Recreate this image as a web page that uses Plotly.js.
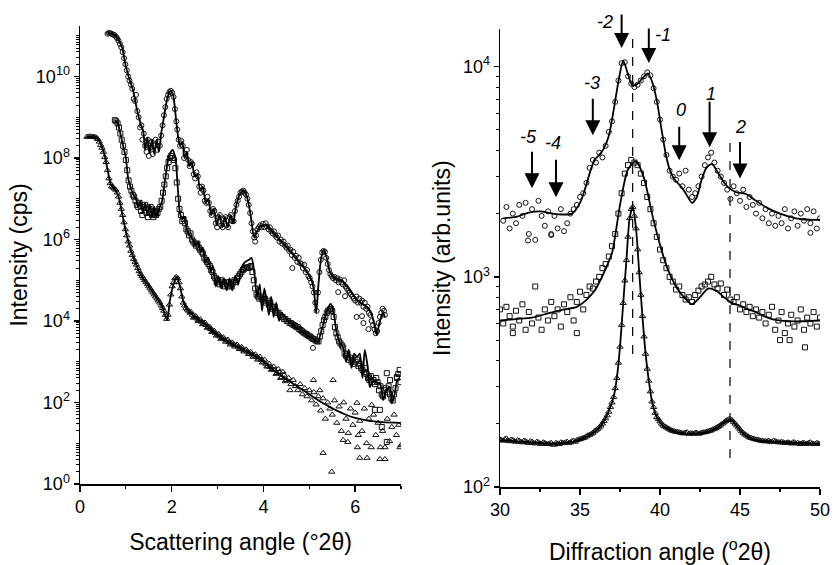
<!DOCTYPE html>
<html><head><meta charset="utf-8">
<script src="https://cdn.plot.ly/plotly-3.0.1.min.js"></script>
<style>html,body{margin:0;padding:0;background:#fff}#chart{width:834px;height:565px}</style>
</head><body><div id="chart"></div>
<script>
// ---------- LEFT PANEL (low-angle scattering), intensities given as log10(cps) ----------
// Series A (circles, top)
const circX = [
 0.60,0.63,0.66,0.69,0.72,0.75,0.78,0.81,0.84,0.87,
 0.90,0.93,0.96,0.99,1.02,1.05,1.08,1.11,1.14,1.17,
 1.20,1.22,1.25,1.28,1.31,1.34,1.36,1.39,1.42,1.45,
 1.48,1.50,1.53,1.56,1.59,1.62,1.65,1.68,1.71,1.74,
 1.77,1.80,1.83,1.86,1.89,1.92,1.95,1.98,2.01,2.04,
 2.07,2.10,2.12,2.15,2.18,2.21,2.24,2.27,2.30,2.33,
 2.36,2.39,2.42,2.45,2.48,2.51,2.54,2.57,2.60,2.63,
 2.66,2.69,2.72,2.75,2.78,2.81,2.84,2.87,2.90,2.93,
 2.96,2.99,3.02,3.05,3.08,3.11,3.14,3.17,3.20,3.23,
 3.26,3.29,3.32,3.35,3.38,3.41,3.44,3.47,3.50,3.53,
 3.56,3.59,3.62,3.65,3.68,3.71,3.74,3.77,3.80,3.82,
 3.84,3.87,3.90,3.93,3.96,3.99,4.02,4.05,4.08,4.11,
 4.14,4.17,4.20,4.23,4.26,4.29,4.32,4.35,4.38,4.41,
 4.44,4.47,4.50,4.53,4.56,4.59,4.62,4.65,4.68,4.71,
 4.74,4.77,4.80,4.83,4.86,4.89,4.92,4.95,4.98,5.01,
 5.04,5.07,5.10,5.13,5.16,5.19,5.22,5.25,5.28,5.31,
 5.34,5.37,5.40,5.43,5.46,5.49,5.52,5.55,5.58,5.61,
 5.64,5.67,5.70,5.73,5.76,5.79,5.82,5.85,5.88,5.91,
 5.94,5.97,6.00,6.03,6.06,6.09,6.12,6.15,6.18,6.21,
 6.24,6.27,6.30,6.33,6.36,6.39,6.42,6.45,6.48,6.51,
 6.54,6.57,6.60,6.63,6.65,
 4.63,5.63,5.78,6.03,6.18,6.29,6.15,5.08
];
const circLog = [
 11.05,11.07,11.06,11.05,11.03,11.02,10.98,10.94,10.88,10.80,
 10.72,10.60,10.45,10.30,10.15,10.00,9.90,9.80,9.70,9.45,
 9.40,9.55,9.15,9.00,8.75,8.80,8.45,8.60,8.30,8.15,
 8.45,8.05,8.25,8.40,8.10,8.30,8.45,8.20,8.40,8.30,
 8.55,8.80,9.05,9.25,9.45,9.55,9.62,9.65,9.60,9.50,
 9.20,8.90,8.70,8.45,8.30,8.42,8.30,8.00,8.10,8.20,
 7.95,7.80,7.90,7.85,7.60,7.50,7.65,7.55,7.30,7.15,
 7.30,7.20,6.95,6.90,7.05,6.90,6.70,6.60,6.75,6.70,
 6.40,6.30,6.55,6.60,6.35,6.30,6.50,6.55,6.35,6.30,
 6.55,6.60,6.45,6.45,6.70,6.85,6.95,7.05,7.15,7.18,
 7.20,7.15,7.10,7.00,6.85,6.65,6.40,6.20,6.05,5.95,
 6.10,6.25,6.30,6.35,6.30,6.38,6.30,6.40,6.32,6.25,
 6.30,6.20,6.15,6.20,6.10,6.05,6.10,5.95,6.00,5.90,
 5.95,5.85,5.80,5.85,5.72,5.75,5.62,5.70,5.55,5.60,
 5.45,5.55,5.42,5.40,5.30,5.38,5.20,5.25,5.10,5.05,
 4.95,4.85,4.70,4.45,4.25,4.70,5.20,5.50,5.68,5.72,
 5.70,5.55,5.40,5.25,5.15,5.10,5.05,5.08,5.00,5.05,
 4.95,5.02,4.95,4.90,5.00,4.85,4.80,4.75,4.70,4.65,
 4.60,4.55,4.50,4.60,4.45,4.55,4.45,4.50,4.35,4.45,
 4.30,4.35,4.20,4.15,4.00,3.90,3.80,3.70,3.75,3.95,
 4.10,4.20,4.30,4.25,4.15,
 5.30,4.71,4.61,4.10,3.95,3.80,4.12,3.34
];
const fitAX = [0.60,0.70,0.78,0.85,0.92,1.00,1.08,1.16,1.24,1.32,1.38,1.42,1.47,1.52,1.57,1.62,1.67,1.72,1.77,1.83,1.90,1.97,2.03,2.08,2.13,2.18,2.23,2.28,2.33,2.38,2.44,2.50,2.56,2.62,2.68,2.74,2.80,2.86,2.92,2.98,3.04,3.10,3.16,3.22,3.28,3.34,3.40,3.48,3.56,3.64,3.72,3.80,3.86,3.93,4.00,4.07,4.15,4.25,4.35,4.45,4.55,4.65,4.75,4.85,4.95,5.05,5.10,5.15,5.20,5.26,5.32,5.38,5.45,5.55,5.65,5.75,5.85,5.95,6.05,6.15,6.25,6.35,6.42,6.47,6.53,6.60,6.65];
const fitALog = [11.07,11.05,11.00,10.88,10.70,10.25,9.92,9.65,9.20,8.85,8.65,8.20,8.50,8.12,8.45,8.10,8.45,8.15,8.60,9.00,9.45,9.65,9.55,9.10,8.60,8.30,8.40,8.00,8.15,7.80,7.90,7.55,7.60,7.20,7.30,6.90,7.00,6.60,6.75,6.35,6.60,6.30,6.55,6.30,6.60,6.40,6.80,7.10,7.20,7.05,6.60,6.05,6.20,6.33,6.33,6.36,6.25,6.12,6.00,5.88,5.75,5.62,5.48,5.35,5.20,5.00,4.75,4.20,4.90,5.55,5.74,5.55,5.20,5.05,5.02,4.95,4.80,4.65,4.50,4.42,4.35,4.20,3.90,3.66,3.95,4.20,4.10];

// Series B (squares, middle)
const sqX = [
 0.76,0.79,0.82,0.85,0.88,0.91,0.94,0.97,1.00,1.03,
 1.06,1.09,1.12,1.15,1.18,1.21,1.24,1.27,1.30,1.33,
 1.36,1.39,1.42,1.45,1.48,1.51,1.54,1.57,1.60,1.63,
 1.66,1.69,1.72,1.75,1.78,1.81,1.84,1.87,1.90,1.93,
 1.96,1.99,2.02,2.05,2.08,2.11,2.14,2.17,2.20,2.23,
 2.26,2.29,2.32,2.35,2.38,2.41,2.44,2.47,2.50,2.53,
 2.56,2.59,2.62,2.65,2.68,2.71,2.74,2.77,2.80,2.83,
 2.86,2.89,2.92,2.95,2.98,3.01,3.04,3.07,3.10,3.13,
 3.16,3.19,3.22,3.25,3.28,3.31,3.34,3.37,3.40,3.43,
 3.46,3.49,3.52,3.55,3.58,3.61,3.64,3.67,3.70,3.73,
 3.76,3.79,3.82,3.85,3.88,3.91,3.94,3.97,4.00,4.03,
 4.06,4.09,4.12,4.15,4.18,4.21,4.24,4.27,4.30,4.33,
 4.36,4.39,4.42,4.45,4.48,4.51,4.54,4.57,4.60,4.63,
 4.66,4.69,4.72,4.75,4.78,4.81,4.84,4.87,4.90,4.93,
 4.96,4.99,5.02,5.05,5.08,5.11,5.14,5.17,5.20,5.23,
 5.26,5.29,5.32,5.35,5.38,5.41,5.44,5.47,5.50,5.53,
 5.56,5.59,5.62,5.65,5.68,5.71,5.74,5.77,5.80,5.83,
 5.86,5.89,5.92,5.95,5.98,6.01,6.04,6.07,6.10,6.13,
 6.16,6.19,6.22,6.25,6.28,6.31,6.34,6.37,6.40,6.43,
 6.46,6.49,6.52,6.55,6.58,6.61,6.64,6.67,6.70,6.73,
 6.76,6.79,6.82,6.85,6.88,6.91,6.94,6.97,6.99,
 6.69,6.76,6.91,6.30,6.43,6.54,6.69,6.58
];
const sqLog = [
 8.93,8.90,8.85,8.75,8.60,8.45,8.30,8.15,7.95,7.70,
 7.45,7.30,7.20,7.10,7.05,6.95,6.85,6.80,6.90,6.70,
 6.60,6.80,6.85,6.65,6.55,6.75,6.80,6.60,6.55,6.70,
 6.60,6.65,6.75,6.80,6.95,7.15,7.35,7.55,7.75,7.90,
 8.00,8.05,8.00,7.95,7.75,7.40,7.00,6.75,6.60,6.45,
 6.50,6.40,6.25,6.20,6.10,6.15,6.00,5.95,5.90,5.85,
 5.90,5.80,5.75,5.70,5.65,5.55,5.50,5.45,5.40,5.35,
 5.25,5.20,5.10,5.05,4.95,5.00,4.90,5.00,4.90,4.95,
 4.85,4.95,4.85,4.95,4.90,4.85,4.95,5.00,4.95,5.05,
 5.10,5.15,5.20,5.25,5.28,5.30,5.32,5.30,5.32,5.35,
 5.20,5.00,4.80,4.65,4.60,4.55,4.60,4.55,4.50,4.55,
 4.45,4.50,4.40,4.45,4.35,4.30,4.35,4.25,4.20,4.20,
 4.15,4.10,4.10,4.05,4.05,4.00,4.00,3.95,3.95,3.92,
 3.90,3.88,3.85,3.85,3.80,3.78,3.75,3.72,3.70,3.68,
 3.66,3.63,3.62,3.58,3.56,3.55,3.52,3.50,3.50,3.62,
 3.75,3.90,4.02,4.10,4.20,4.25,4.28,4.30,4.25,4.10,
 3.85,3.70,3.60,3.50,3.45,3.40,3.35,3.20,3.15,3.20,
 3.05,3.10,3.00,3.05,2.95,3.00,3.05,2.90,2.95,2.85,
 2.80,2.75,2.85,2.70,2.60,2.55,2.65,2.50,2.55,2.45,
 2.60,2.50,2.30,2.40,2.20,2.15,2.30,2.35,2.25,2.40,
 2.20,2.10,2.05,2.20,2.35,2.60,2.70,2.80,2.50,
 2.72,2.55,2.63,2.62,1.82,1.82,1.03,1.40
];
const fitBX = [0.76,0.82,0.88,0.94,1.00,1.05,1.10,1.16,1.22,1.27,1.32,1.37,1.42,1.47,1.52,1.57,1.62,1.67,1.72,1.78,1.86,1.94,2.02,2.08,2.13,2.18,2.23,2.28,2.34,2.40,2.46,2.52,2.58,2.63,2.68,2.74,2.80,2.85,2.90,2.96,3.02,3.08,3.14,3.20,3.26,3.32,3.38,3.45,3.52,3.60,3.68,3.74,3.80,3.86,3.92,3.97,4.02,4.07,4.12,4.17,4.22,4.28,4.34,4.40,4.50,4.60,4.70,4.80,4.90,5.00,5.10,5.18,5.25,5.32,5.40,5.47,5.53,5.60,5.67,5.74,5.80,5.86,5.92,5.98,6.04,6.10,6.16,6.21,6.27,6.32,6.40,6.47,6.54,6.61,6.68,6.76,6.80,6.86,6.92,6.98];
const fitBLog = [8.93,8.86,8.60,8.30,8.00,7.50,7.30,7.10,7.00,6.80,6.95,6.65,6.90,6.60,6.85,6.55,6.80,6.55,6.75,6.90,7.50,8.05,8.20,8.00,7.30,6.65,6.50,6.55,6.20,6.10,6.00,5.85,5.95,5.70,5.80,5.45,5.55,5.20,5.35,4.85,5.10,4.80,5.05,4.75,5.05,4.75,5.10,4.90,5.30,5.45,5.50,5.55,5.20,4.60,4.90,4.25,4.80,4.50,4.15,4.60,4.10,4.45,4.00,4.20,4.05,3.95,3.85,3.78,3.70,3.62,3.55,3.48,3.70,4.00,4.30,4.42,4.20,3.70,3.46,3.35,3.00,3.30,2.85,3.20,3.12,3.20,2.60,3.29,2.90,2.38,2.55,2.48,2.48,2.06,2.30,2.38,1.98,2.20,2.55,2.60];

// Series C (triangles, bottom)
const triX = [
 0.15,0.18,0.21,0.24,0.27,0.30,0.33,0.36,0.39,0.42,
 0.45,0.48,0.51,0.54,0.57,0.60,0.63,0.66,0.69,0.72,
 0.75,0.78,0.81,0.84,0.87,0.90,0.93,0.96,0.99,1.02,
 1.05,1.08,1.11,1.14,1.17,1.20,1.23,1.26,1.29,1.32,
 1.35,1.38,1.41,1.44,1.47,1.50,1.53,1.56,1.59,1.62,
 1.65,1.68,1.71,1.74,1.77,1.80,1.83,1.86,1.89,1.92,
 1.95,1.98,2.01,2.04,2.07,2.10,2.13,2.16,2.19,2.22,
 2.25,2.28,2.31,2.34,2.37,2.40,2.45,2.50,2.55,2.60,
 2.65,2.70,2.75,2.80,2.85,2.90,2.95,3.00,3.05,3.10,
 3.15,3.20,3.25,3.30,3.35,3.40,3.45,3.50,3.55,3.60,
 3.65,3.70,3.75,3.80,3.85,3.90,3.95,4.00,4.05,4.10,
 4.15,4.20,4.25,4.30,4.35,4.40,4.45,4.50,4.55,4.60,
 4.65,4.70,4.75,4.80,4.85,4.90,4.95,5.00,5.05,5.10,
 5.15,5.20,5.25,5.30,5.35,5.40,5.45,5.50,5.55,5.60,
 5.65,5.70,5.75,5.80,5.85,5.90,5.95,6.00,6.05,6.10,
 6.15,6.20,6.25,6.30,6.35,6.40,6.45,6.50,6.55,6.60,
 6.65,6.70,6.75,6.80,6.85,6.90,6.95,7.00,
 5.30,5.49,4.58,6.10,6.26,6.54,6.65,6.98,5.74,5.84,6.07,5.09,5.52,5.23,6.04,6.36,
 2.425,2.475,2.525,2.575,2.625,2.675,2.725,2.775,2.825,2.875,
 2.925,2.975,3.025,3.075,3.125,3.175,3.225,3.275,3.325,3.375,
 3.425,3.475,3.525,3.575,3.625,3.675,3.725,3.775,3.825,3.875,
 3.925,3.975,4.025,4.075,4.125,4.175,4.225,4.275,4.325,4.375,
 4.425,4.475
];
const triLog = [
 8.52,8.52,8.53,8.52,8.52,8.52,8.51,8.50,8.46,8.40,
 8.32,8.25,8.15,8.02,7.90,7.70,7.50,7.38,7.30,7.28,
 7.25,7.22,7.15,7.05,6.90,6.75,6.60,6.42,6.25,6.10,
 5.95,5.85,5.72,5.62,5.52,5.45,5.38,5.30,5.22,5.15,
 5.10,5.05,5.00,4.95,4.90,4.85,4.80,4.75,4.70,4.65,
 4.60,4.55,4.50,4.45,4.38,4.32,4.25,4.15,4.05,4.15,
 4.40,4.65,4.85,4.95,5.05,5.08,5.05,4.95,4.80,4.60,
 4.45,4.38,4.32,4.28,4.25,4.20,4.15,4.10,4.06,4.02,
 3.98,3.94,3.90,3.85,3.80,3.75,3.70,3.66,3.62,3.58,
 3.55,3.52,3.48,3.45,3.42,3.40,3.37,3.34,3.30,3.28,
 3.25,3.20,3.18,3.15,3.12,3.08,3.05,3.00,2.95,2.90,
 2.87,2.82,2.80,2.72,2.75,2.62,2.68,2.55,2.60,2.45,
 2.55,2.40,2.30,2.45,2.20,2.35,2.15,2.30,2.05,2.25,
 1.95,2.15,1.80,2.10,1.60,2.00,1.85,1.70,2.05,1.50,
 1.90,1.30,2.00,1.60,1.25,1.85,1.45,1.75,0.90,1.55,
 1.30,1.85,1.00,1.60,0.90,1.70,1.20,1.50,0.90,1.30,
 0.90,1.60,1.05,1.40,1.70,1.20,1.45,0.95,
 0.76,0.30,2.30,0.64,0.64,0.61,0.61,0.90,1.08,1.03,1.20,2.55,2.55,2.30,1.99,1.94,
 4.22,4.08,4.12,4.00,4.04,3.92,3.96,3.83,3.86,3.73,
 3.76,3.64,3.68,3.56,3.60,3.49,3.54,3.42,3.47,3.37,
 3.42,3.31,3.36,3.25,3.30,3.19,3.24,3.12,3.18,3.05,
 3.12,2.98,3.05,2.88,2.95,2.80,2.88,2.70,2.82,2.60,
 2.75,2.52
];
const fitCX = [0.15,0.25,0.35,0.42,0.50,0.56,0.62,0.67,0.72,0.78,0.84,0.90,0.96,1.02,1.09,1.15,1.22,1.30,1.40,1.50,1.60,1.70,1.80,1.90,1.96,2.04,2.11,2.18,2.26,2.33,2.45,2.60,2.75,2.90,3.05,3.25,3.50,3.75,3.95,4.15,4.40,4.60,4.80,5.00,5.20,5.40,5.60,5.80,6.00,6.30,6.60,7.00];
const fitCLog = [8.52,8.52,8.50,8.42,8.20,7.95,7.60,7.35,7.28,7.20,7.05,6.75,6.40,6.10,5.80,5.60,5.40,5.18,5.00,4.85,4.68,4.52,4.32,4.02,4.50,4.90,5.08,4.85,4.45,4.30,4.15,4.02,3.90,3.75,3.61,3.47,3.33,3.18,3.05,2.85,2.65,2.50,2.35,2.20,2.05,1.92,1.80,1.70,1.62,1.55,1.52,1.50];

// ---------- RIGHT PANEL (diffraction), intensities in arb. units ----------
const r1X = [30.2,30.4,30.6,30.8,31.0,31.2,31.4,31.6,31.8,32.0,32.2,32.4,32.6,32.8,33.0,33.2,33.4,33.6,33.8,34.0,34.2,34.4,34.6,34.8,35.0,35.2,35.4,35.6,35.8,36.0,36.2,36.4,36.6,36.8,37.0,37.2,37.4,37.6,37.8,38.0,38.2,38.4,38.6,38.8,39.0,39.2,39.4,39.6,39.8,40.0,40.2,40.4,40.6,40.8,41.0,41.2,41.4,41.6,41.8,42.0,42.2,42.4,42.6,42.8,43.0,43.2,43.4,43.6,43.8,44.0,44.2,44.4,44.6,44.8,45.0,45.2,45.4,45.6,45.8,46.0,46.2,46.4,46.6,46.8,47.0,47.2,47.4,47.6,47.8,48.0,48.2,48.4,48.6,48.8,49.0,49.2,49.4,49.6,49.8,50.0,31.75,33.2,49.4];
const r1I = [1850,2150,1700,2000,1800,2200,1950,2250,1600,2100,1500,2300,1950,1750,2050,1600,1950,1700,2100,1650,1800,2000,2100,2200,2400,2500,2800,3300,3600,3500,3900,3700,4200,4900,5500,6800,8600,10400,10500,9000,8300,8000,8200,8600,9000,9400,9100,7900,6800,5600,4500,3800,3200,3000,2900,3100,2700,3200,2600,2400,2500,2700,3000,3400,3700,3900,3500,3200,3000,2800,2600,2350,2700,2500,2300,2600,2150,2400,2200,2000,2250,1900,2100,1800,2000,1750,1950,1800,2100,1700,1900,2050,1750,2000,1850,2100,1800,2050,1700,1900,1490,1580,1620];
const r1FitX = [30.2,31.0,31.8,32.5,33.3,34.0,34.5,35.0,35.3,35.6,35.9,36.2,36.5,36.8,37.1,37.4,37.7,38.0,38.3,38.6,38.9,39.25,39.5,39.8,40.1,40.4,40.7,41.0,41.3,41.6,42.0,42.3,42.6,42.9,43.25,43.6,43.95,44.3,44.8,45.2,45.5,46.0,46.7,47.5,48.5,49.3,50.0];
const r1FitI = [1900,1930,2020,2050,2000,1980,2000,2250,2600,3100,3600,3800,4100,4700,6200,8500,10700,9200,8100,8300,8800,9300,8500,6900,5000,3700,3100,2850,2700,2500,2250,2400,2900,3300,3450,3150,2850,2650,2520,2500,2450,2300,2130,2000,1900,1870,1870];

const r2X = [30.0,30.2,30.4,30.6,30.8,31.0,31.2,31.4,31.6,31.8,32.0,32.2,32.4,32.6,32.8,33.0,33.2,33.4,33.6,33.8,34.0,34.2,34.4,34.6,34.8,35.0,35.2,35.4,35.6,35.8,36.0,36.2,36.4,36.6,36.8,37.0,37.2,37.4,37.6,37.8,38.0,38.2,38.4,38.6,38.8,39.0,39.2,39.4,39.6,39.8,40.0,40.2,40.4,40.6,40.8,41.0,41.2,41.4,41.6,41.8,42.0,42.2,42.4,42.6,42.8,43.0,43.2,43.4,43.6,43.8,44.0,44.2,44.4,44.6,44.8,45.0,45.2,45.4,45.6,45.8,46.0,46.2,46.4,46.6,46.8,47.0,47.2,47.4,47.6,47.8,48.0,48.2,48.4,48.6,48.8,49.0,49.2,49.4,49.6,49.8,50.0,49.06,47.5,34.8,30.8,48.1];
const r2I = [700,600,720,650,580,690,620,740,560,680,600,900,640,560,700,620,760,650,700,580,740,680,800,620,760,850,700,820,900,880,950,1000,1100,1150,1250,1400,1600,2000,2500,3100,3400,3600,3500,3400,3100,2800,2400,2100,1800,1550,1350,1200,1100,1000,950,870,900,820,780,800,760,820,860,900,920,950,1000,920,880,930,820,870,780,760,800,700,740,680,720,650,700,640,680,600,660,720,560,620,680,540,600,660,580,620,700,560,640,600,680,580,640,462,500,540,540,500];
const r2FitX = [30.0,31.0,32.0,33.0,34.0,34.8,35.5,36.0,36.5,37.0,37.5,38.0,38.5,39.0,39.5,40.0,40.5,41.0,41.5,42.0,42.5,43.0,43.5,44.0,44.5,45.0,45.5,46.0,46.5,47.0,48.0,49.0,50.0];
const r2FitI = [620,630,640,670,700,720,790,880,1050,1300,2200,3250,3550,2950,2000,1420,1080,900,800,740,800,880,860,800,750,730,700,680,650,630,615,615,620];

const r3X = [30.0,30.2,30.4,30.6,30.8,31.0,31.2,31.4,31.6,31.8,32.0,32.2,32.4,32.6,32.8,33.0,33.2,33.4,33.6,33.8,34.0,34.2,34.4,34.6,34.8,35.0,35.2,35.4,35.6,35.8,36.0,36.2,36.4,36.6,36.8,36.9,37.0,37.1,37.2,37.3,37.4,37.5,37.6,37.7,37.8,37.9,38.0,38.1,38.2,38.3,38.4,38.5,38.6,38.7,38.8,38.9,39.0,39.1,39.2,39.3,39.4,39.5,39.6,39.7,39.8,40.0,40.2,40.4,40.6,40.8,41.0,41.2,41.4,41.6,41.8,42.0,42.2,42.4,42.6,42.8,43.0,43.2,43.4,43.6,43.8,44.0,44.2,44.4,44.6,44.8,45.0,45.2,45.4,45.6,45.8,46.0,46.2,46.4,46.6,46.8,47.0,47.2,47.4,47.6,47.8,48.0,48.2,48.4,48.6,48.8,49.0,49.2,49.4,49.6,49.8,50.0,
 30.1,30.3,30.5,30.7,30.9,31.1,31.3,31.5,31.7,31.9,32.1,32.3,32.5,32.7,32.9,33.1,33.3,33.5,33.7,33.9,34.1,34.3,34.5,34.7,34.9,35.1,35.3,35.5,35.7,35.9,36.1,36.3,36.5,36.7,
 39.9,40.1,40.3,40.5,40.7,40.9,41.1,41.3,41.5,41.7,41.9,42.1,42.3,42.5,42.7,42.9,43.1,43.3,43.5,43.7,43.9,44.1,44.3,44.5,44.7,44.9,45.1,45.3,45.5,45.7,45.9,46.1,46.3,46.5,46.7,46.9,47.1,47.3,47.5,47.7,47.9,48.1,48.3,48.5,48.7,48.9,49.1,49.3,49.5,49.7,49.9];
const r3I = [168,166,170,165,167,164,166,163,165,162,164,161,163,160,162,160,162,159,161,163,162,164,163,166,167,169,171,174,177,181,186,192,200,212,228,240,252,268,295,330,390,465,590,750,960,1200,1550,1900,2100,2150,1950,1700,1350,1050,820,650,520,430,365,320,285,255,240,225,215,205,196,192,188,185,183,182,180,181,179,180,181,179,181,182,184,186,189,193,198,203,208,210,204,196,188,181,176,172,170,168,167,166,165,166,164,165,163,164,162,163,161,163,162,160,162,161,163,160,162,160,
 167,169,166,168,165,167,164,166,163,165,162,164,161,163,160,161,159,162,160,162,163,162,165,164,168,170,172,176,179,184,189,196,206,219,
 210,200,194,190,186,184,183,181,180,182,180,179,181,180,182,183,185,188,191,195,200,206,210,208,200,192,184,178,174,171,169,168,166,165,165,164,166,164,163,163,162,162,163,161,161,162,160,162,161,160,161];
const r3FitX = [30.0,31.0,32.0,33.0,34.0,34.8,35.5,36.0,36.4,36.8,37.1,37.3,37.5,37.7,37.9,38.1,38.3,38.5,38.7,38.9,39.1,39.3,39.5,39.8,40.2,40.8,41.5,42.3,43.0,43.6,44.0,44.4,44.8,45.2,45.7,46.3,47.0,48.0,49.0,50.0];
const r3FitI = [167,165,163,161,162,166,175,185,200,230,268,330,465,750,1200,1900,2150,1700,1050,650,430,320,255,215,195,185,180,180,183,192,202,210,195,180,170,166,165,163,162,161];

// Satellite-peak markers: order labels, arrow positions, tip intensities, arrow lengths
const satLabels = ['-5','-4','-3','-2','-1','0','1','2'];
const satX      = [32.0, 33.5, 35.8, 37.6, 39.3, 41.2, 43.1, 45.0];
const satTipI   = [2640, 2390, 4720, 12270, 10420, 3590, 4140, 2940];
const satLen    = [38, 39, 38, 35, 36, 35, 47, 38];
const satLabelX = [31.75, 33.31, 35.75, 36.56, 40.19, 41.31, 43.19, 45.0];
const satLabelY = [0.759, 0.746, 0.876, 1.009, 0.980, 0.818, 0.852, 0.781];
// dashed reference lines (diffraction angle)
const refLineX  = [38.29, 44.375];
const refLineY0 = [0.2885, 0.063];
const refLineY1 = [0.978, 0.748];

const pow10 = a => a.map(v => Math.pow(10, v));
const FONT = '"Liberation Sans", Arial, Helvetica, sans-serif';

function mk(x, y, sym, xa, ya, sz) {
  return {x: x, y: y, type: 'scatter', mode: 'markers', xaxis: xa, yaxis: ya,
    marker: {symbol: sym, size: sz || 5, color: '#111', line: {width: 1, color: '#111'}}, hoverinfo: 'skip'};
}
function ln(x, y, xa, ya) {
  return {x: x, y: y, type: 'scatter', mode: 'lines', xaxis: xa, yaxis: ya,
    line: {color: '#000', width: 1.8, shape: 'spline', smoothing: 0.7}, hoverinfo: 'skip'};
}

const traces = [
  mk(circX, pow10(circLog), 'circle-open', 'x', 'y'),
  mk(sqX, pow10(sqLog), 'square-open', 'x', 'y'),
  mk(triX, pow10(triLog), 'triangle-up-open', 'x', 'y', 5.5),
  ln(fitAX, pow10(fitALog), 'x', 'y'),
  ln(fitBX, pow10(fitBLog), 'x', 'y'),
  ln(fitCX, pow10(fitCLog), 'x', 'y'),
  mk(r1X, r1I, 'circle-open', 'x2', 'y2'),
  mk(r2X, r2I, 'square-open', 'x2', 'y2'),
  mk(r3X, r3I, 'triangle-up-open', 'x2', 'y2', 5.5),
  ln(r1FitX, r1FitI, 'x2', 'y2'),
  ln(r2FitX, r2FitI, 'x2', 'y2'),
  ln(r3FitX, r3FitI, 'x2', 'y2')
];

// minor tick positions for log axes
function logMinor(e0, e1) {
  const v = [];
  for (let e = e0; e <= e1; e++) for (let d = 1; d <= 9; d++) v.push(d * Math.pow(10, e));
  return v;
}
const leftMajor = [1, 1e2, 1e4, 1e6, 1e8, 1e10];
const leftMajorText = ['10<sup>0</sup>','10<sup>2</sup>','10<sup>4</sup>','10<sup>6</sup>','10<sup>8</sup>','10<sup>10</sup>'];
const rightMajor = [1e2, 1e3, 1e4];
const rightMajorText = ['10<sup>2</sup>','10<sup>3</sup>','10<sup>4</sup>'];

const axBase = {showline: true, linewidth: 1.5, linecolor: '#000', showgrid: false, zeroline: false,
  ticks: 'outside', ticklen: 6, tickwidth: 1.5, tickcolor: '#000', tickfont: {size: 18, family: FONT, color: '#000'}};

const annotations = [];
satLabels.forEach((t, i) => {
  annotations.push({xref: 'x2', yref: 'y2', x: satX[i], y: Math.log10(satTipI[i]), text: '',
    showarrow: true, arrowhead: 2, arrowsize: 1.5, arrowwidth: 2, arrowcolor: '#000',
    axref: 'pixel', ayref: 'pixel', ax: 0, ay: -satLen[i], standoff: 0});
  annotations.push({xref: 'x2', yref: 'paper', x: satLabelX[i], y: satLabelY[i], text: '<i>' + t + '</i>',
    showarrow: false, font: {size: 18, family: FONT, color: '#000'}, xanchor: 'center', yanchor: 'middle'});
});

const shapes = refLineX.map((x, i) => ({type: 'line', xref: 'x2', yref: 'paper', x0: x, x1: x,
  y0: refLineY0[i], y1: refLineY1[i], line: {color: '#000', width: 1.2, dash: 'dash'}}));

const layout = {
  width: 834, height: 565,
  margin: {l: 80, r: 14, t: 26, b: 78},
  paper_bgcolor: '#fff', plot_bgcolor: '#fff', showlegend: false,
  font: {family: FONT, size: 18, color: '#000'},
  xaxis: Object.assign({}, axBase, {domain: [0, 0.4338], range: [0, 7], anchor: 'y',
    tickmode: 'array', tickvals: [0, 2, 4, 6],
    minor: {ticks: 'outside', ticklen: 3, tickwidth: 1.2, tickcolor: '#000', tickmode: 'array', tickvals: [1, 3, 5, 7]},
    title: {text: 'Scattering angle (°2θ)', font: {size: 23, family: FONT}, standoff: 18}}),
  yaxis: Object.assign({}, axBase, {domain: [0.0065, 1], type: 'log', range: [0, 11.24], anchor: 'x',
    tickmode: 'array', tickvals: leftMajor, ticktext: leftMajorText, ticklen: 5,
    minor: {ticks: 'outside', ticklen: 3, tickwidth: 1, tickcolor: '#000', tickmode: 'array', tickvals: logMinor(0, 11)},
    title: {text: 'Intensity (cps)', font: {size: 23, family: FONT}, standoff: 2}}),
  xaxis2: Object.assign({}, axBase, {domain: [0.5676, 1], range: [30, 50], anchor: 'y2',
    tickmode: 'linear', tick0: 30, dtick: 5,
    minor: {ticks: 'outside', ticklen: 3, tickwidth: 1.2, tickcolor: '#000', tickmode: 'linear', tick0: 30, dtick: 2.5},
    title: {text: 'Diffraction angle (<sup>o</sup>2θ)', font: {size: 23, family: FONT}, standoff: 26}}),
  yaxis2: Object.assign({}, axBase, {domain: [0, 0.9928], type: 'log', range: [2, 4.178], anchor: 'x2',
    tickmode: 'array', tickvals: rightMajor, ticktext: rightMajorText, ticklen: 5,
    minor: {ticks: 'outside', ticklen: 3, tickwidth: 1, tickcolor: '#000', tickmode: 'array', tickvals: logMinor(2, 4)},
    title: {text: 'Intensity (arb.units)', font: {size: 23, family: FONT}, standoff: 6}}),
  annotations: annotations,
  shapes: shapes
};

Plotly.newPlot('chart', traces, layout, {displayModeBar: false, staticPlot: true});
</script></body></html>
